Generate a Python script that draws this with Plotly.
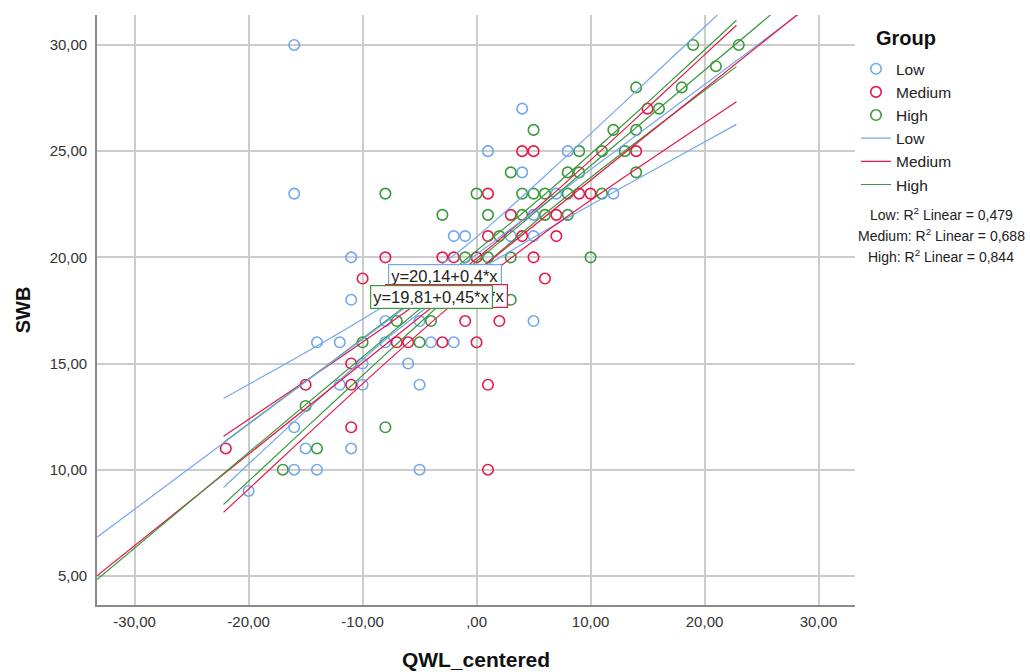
import plotly.graph_objects as go

# ---------------- data ----------------
low_x = [-16, -16, -11, -11, -2, -1, 1, 4, 8, 4, 7, 12, 5, 3, 5, -8, -5, 5, -14, -12,
         -8, -4, -2, -10, -6, -12, -10, -5, -16, -15, -11, -16, -14, -5, -20]
low_y = [30, 23, 20, 18, 21, 21, 25, 27, 25, 24, 23, 23, 22, 21, 21, 17, 17, 17, 16, 16,
         16, 16, 16, 15, 15, 14, 14, 14, 12, 11, 11, 10, 10, 10, 9]

med_x = [-8, -3, -2, 0, -10, 1, 1, 4, 5, 14, 15, 9, 10, 3, 7, 4, 7, 5, 6, -1,
         2, -7, -6, -3, 0, -11, -15, -11, 1, -11, -22, 1]
med_y = [20, 20, 20, 20, 19, 23, 21, 25, 25, 25, 27, 23, 23, 22, 22, 21, 21, 20, 19, 17,
         17, 16, 16, 16, 16, 15, 14, 14, 14, 12, 11, 10]

high_x = [-8, -3, -1, 1, 0, 1, 2, 5, 9, 11, 13, 12, 14, 3, 8, 9, 14, 4, 5, 6,
          8, 11, 4, 6, 8, 3, 10, 19, 23, 21, 14, 18, 16, 3, -7, -4, -10, -5, -15, -8,
          -14, -17]
high_y = [23, 22, 20, 20, 23, 22, 21, 26, 25, 25, 25, 26, 26, 24, 24, 24, 24, 23, 23, 23,
          23, 23, 22, 22, 22, 20, 20, 30, 30, 29, 28, 28, 27, 18, 17, 17, 16, 16, 13, 12,
          11, 10]

groups = ["Low", "Medium", "High"]
fit_intercept = [20.14, 19.33, 19.81]
fit_slope = [0.40, 0.43, 0.45]
r_squared = ["0,479", "0,688", "0,844"]

# mean confidence band curves
ci_x = [-22.2, -15, -8, -1, 6, 13, 19, 22.8]
low_ci_upper = [13.36, 15.52, 17.76, 20.51, 23.83, 27.32, 30.34, 32.26]
low_ci_lower = [9.16, 12.76, 16.12, 18.97, 21.25, 23.36, 25.14, 26.26]
med_ci_upper = [11.57, 14.18, 16.76, 19.51, 22.65, 26.05, 29.04, 30.93]
med_ci_lower = [7.99, 11.58, 15.02, 18.29, 21.17, 23.79, 25.96, 27.33]
high_ci_upper = [11.28, 14.16, 16.99, 19.88, 22.97, 26.31, 29.27, 31.16]
high_ci_lower = [8.36, 11.96, 15.43, 18.84, 22.05, 25.01, 27.45, 28.98]

x_tickvals = [-30, -20, -10, 0, 10, 20, 30]
x_ticktext = ["-30,00", "-20,00", "-10,00", ",00", "10,00", "20,00", "30,00"]
y_tickvals = [5, 10, 15, 20, 25, 30]
y_ticktext = ["5,00", "10,00", "15,00", "20,00", "25,00", "30,00"]

# ---------------- styling ----------------
colors = ["#72a7ef", "#e6194b", "#3b9a3b"]
FONT = "Arial, Liberation Sans, sans-serif"
x_range = [-33.3, 33.2]
y_range = [3.63, 31.41]

fig = go.Figure()

pts = [(low_x, low_y), (med_x, med_y), (high_x, high_y)]
for g, (xs, ys), c in zip(groups, pts, colors):
    fig.add_trace(go.Scatter(
        x=xs, y=ys, mode="markers", name=g,
        marker=dict(symbol="circle-open", size=10.5, color=c, line=dict(width=1.6, color=c)),
    ))

cis = [(low_ci_upper, low_ci_lower), (med_ci_upper, med_ci_lower), (high_ci_upper, high_ci_lower)]
for g, (up, lo), c in zip(groups, cis, colors):
    for band in (up, lo):
        fig.add_trace(go.Scatter(
            x=ci_x, y=band, mode="lines", showlegend=False, hoverinfo="skip",
            line=dict(color=c, width=1.2, shape="spline", smoothing=0.6),
        ))

for g, a, b, c in zip(groups, fit_intercept, fit_slope, colors):
    fx = [x_range[0], x_range[1]]
    fy = [a + b * v for v in fx]
    fig.add_trace(go.Scatter(
        x=fx, y=fy, mode="lines", name=g,
        line=dict(color=c, width=1.2),
    ))

# equation labels
def eq_text(a, b):
    bs = ("%.2f" % b).rstrip("0").rstrip(".").replace(".", ",")
    return "y=%s+%s*x" % (("%.2f" % a).replace(".", ","), bs)

label_pos = [(-2.75, 19.12), (-2.6, 18.16), (-3.95, 18.13)]
for (a, b), c, (px, py) in zip(zip(fit_intercept, fit_slope), colors, label_pos):
    fig.add_annotation(
        x=px, y=py, xref="x", yref="y", text=eq_text(a, b), showarrow=False,
        font=dict(family=FONT, size=16.5, color="#222"),
        bgcolor="white", bordercolor=c, borderwidth=1.2, borderpad=2,
    )

# legend title
fig.add_annotation(
    x=1.0245, y=0.961, xref="paper", yref="paper", xanchor="left", yanchor="middle",
    text="<b>Group</b>", showarrow=False,
    font=dict(family=FONT, size=20, color="#111"),
)

# R squared lines
for i, (g, r) in enumerate(zip(groups, r_squared)):
    fig.add_annotation(
        x=1.114, y=0.6635 - i * 0.0356, xref="paper", yref="paper", xanchor="center",
        yanchor="middle",
        text="%s: R<sup>2</sup> Linear = %s" % (g, r), showarrow=False,
        font=dict(family=FONT, size=14, color="#222"),
    )

fig.update_layout(
    width=1030, height=672,
    margin=dict(l=97, r=175, t=15, b=67),
    paper_bgcolor="white", plot_bgcolor="white",
    font=dict(family=FONT, size=15, color="#333"),
    showlegend=True,
    legend=dict(
        x=1.0013, y=0.937, xanchor="left", yanchor="top",
        font=dict(family=FONT, size=15.5, color="#222"),
        bgcolor="rgba(0,0,0,0)", tracegroupgap=0, itemwidth=30,
    ),
    xaxis=dict(
        range=x_range, tickvals=x_tickvals, ticktext=x_ticktext,
        showgrid=True, gridcolor="#cccccc", gridwidth=1.5, zeroline=False,
        showline=True, linecolor="#8a8a8a", linewidth=1.6, ticks="",
        ticklabelstandoff=2, automargin=False,
        tickfont=dict(family=FONT, size=15, color="#333"),
        title=dict(text="<b>QWL_centered</b>", font=dict(family=FONT, size=21, color="#111"), standoff=24),
    ),
    yaxis=dict(
        range=y_range, tickvals=y_tickvals, ticktext=y_ticktext,
        showgrid=True, gridcolor="#cccccc", gridwidth=1.5, zeroline=False,
        showline=True, linecolor="#8a8a8a", linewidth=1.6, ticks="",
        ticklabelstandoff=5, automargin=False,
        tickfont=dict(family=FONT, size=15, color="#333"),
        title=dict(text="<b>SWB</b>", font=dict(family=FONT, size=20, color="#111"), standoff=14),
    ),
)

fig.write_html("out.html", config={"displayModeBar": False},
               post_script="document.body.style.margin='0px';")
